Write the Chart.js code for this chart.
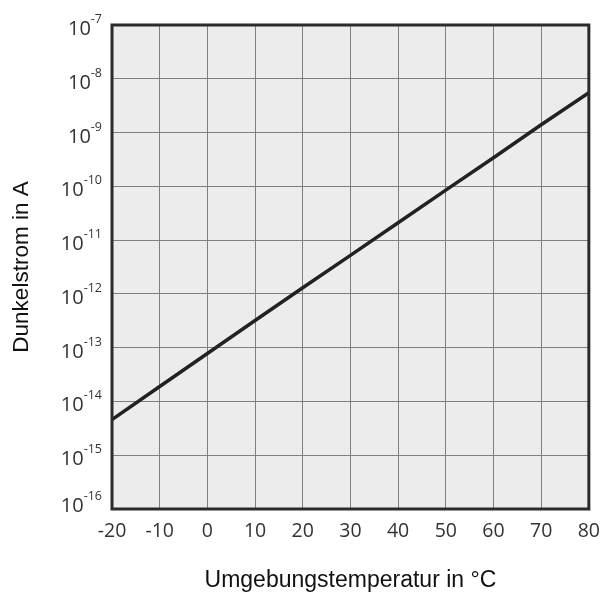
<!DOCTYPE html>
<html>
<head>
<meta charset="utf-8">
<script src="https://cdn.jsdelivr.net/npm/chart.js@4.4.1/dist/chart.umd.min.js"></script>
<style>
  html, body { margin: 0; padding: 0; background: #fff; }
  #wrap { width: 611px; height: 597px; }
</style>
</head>
<body>
<div id="wrap"><canvas id="dark-current"></canvas></div>
<script>
// Dunkelstrom über Umgebungstemperatur
const temperaturen = [-20, -10, 0, 10, 20, 30, 40, 50, 60, 70, 80]
const dunkelstrom = [4.6e-15, 1.9e-14, 7.8e-14, 3.2e-13, 1.3e-12, 5.2e-12, 2.1e-11, 8.5e-11, 3.4e-10, 1.4e-9, 5.5e-9]
const exponenten = [-16, -15, -14, -13, -12, -11, -10, -9, -8, -7]
const xTicks = [-20, -10, 0, 10, 20, 30, 40, 50, 60, 70, 80]

const punkte = temperaturen.map((t, i) => ({ x: t, y: dunkelstrom[i] }))

// grauer Hintergrund im Diagrammbereich
const hintergrund = {
    id: 'hintergrund',
    beforeDraw(chart) {
        const { ctx, chartArea: a } = chart
        ctx.save()
        ctx.fillStyle = '#ececec'
        ctx.fillRect(a.left, a.top, a.right - a.left, a.bottom - a.top)
        ctx.restore()
    }
}

// Rahmen und Zehnerpotenzen an der y-Achse
const rahmen = {
    id: 'rahmen',
    afterDraw(chart) {
        const { ctx, chartArea: a } = chart
        ctx.save()
        ctx.strokeStyle = '#2b2b2b'
        ctx.lineWidth = 3
        ctx.strokeRect(a.left, a.top, a.right - a.left, a.bottom - a.top)

        const y = chart.scales.y
        const rechts = a.left - 10
        ctx.fillStyle = '#333'
        ctx.textAlign = 'right'
        exponenten.forEach((e, i) => {
            // unterste Beschriftung etwas anheben, damit sie nicht mit der x-Achse kollidiert
            const py = y.getPixelForValue(Math.pow(10, e)) - (i === 0 ? 7 : 0)
            ctx.font = '12.5px "Open Sans"'
            ctx.textBaseline = 'alphabetic'
            const hoch = String(e)
            const w = ctx.measureText(hoch).width
            ctx.fillText(hoch, rechts, py - 2)
            ctx.font = '20px "Open Sans"'
            ctx.fillText('10', rechts - w, py + 10)
        })
        ctx.restore()
    }
}

new Chart(document.getElementById('dark-current'), {
    type: 'line',
    data: {
        datasets: [
            {
                data: punkte,
                borderColor: '#222',
                borderWidth: 3.5,
                pointRadius: 0,
                fill: false,
                tension: 0
            }
        ]
    },
    options: {
        responsive: true,
        maintainAspectRatio: false,
        animation: false,
        layout: { padding: { top: 25, right: 14, left: 0, bottom: 0 } },
        plugins: {
            legend: { display: false },
            tooltip: { enabled: false }
        },
        scales: {
            x: {
                type: 'linear',
                min: -20,
                max: 80,
                afterFit: scale => { scale.height = 88 },
                afterBuildTicks: scale => { scale.ticks = xTicks.map(v => ({ value: v })) },
                grid: { color: '#808080', lineWidth: 1, drawTicks: false },
                border: { display: false },
                ticks: {
                    padding: 11,
                    color: '#333',
                    font: { family: 'Open Sans', size: 19.5 }
                },
                title: {
                    display: true,
                    text: 'Umgebungstemperatur in °C',
                    color: '#111',
                    font: { family: 'Liberation Sans', size: 23 },
                    padding: { top: 0, bottom: 3 }
                }
            },
            y: {
                type: 'logarithmic',
                min: 1e-16,
                max: 1e-7,
                afterFit: scale => { scale.width = 112 },
                afterBuildTicks: scale => { scale.ticks = exponenten.map(e => ({ value: Math.pow(10, e) })) },
                grid: { color: '#808080', lineWidth: 1, drawTicks: false },
                border: { display: false },
                ticks: { display: false },
                title: {
                    display: true,
                    text: 'Dunkelstrom in A',
                    color: '#111',
                    font: { family: 'Liberation Sans', size: 22.5 },
                    padding: { top: 8, bottom: 0 }
                }
            }
        }
    },
    plugins: [hintergrund, rahmen]
});
</script>
</body>
</html>
